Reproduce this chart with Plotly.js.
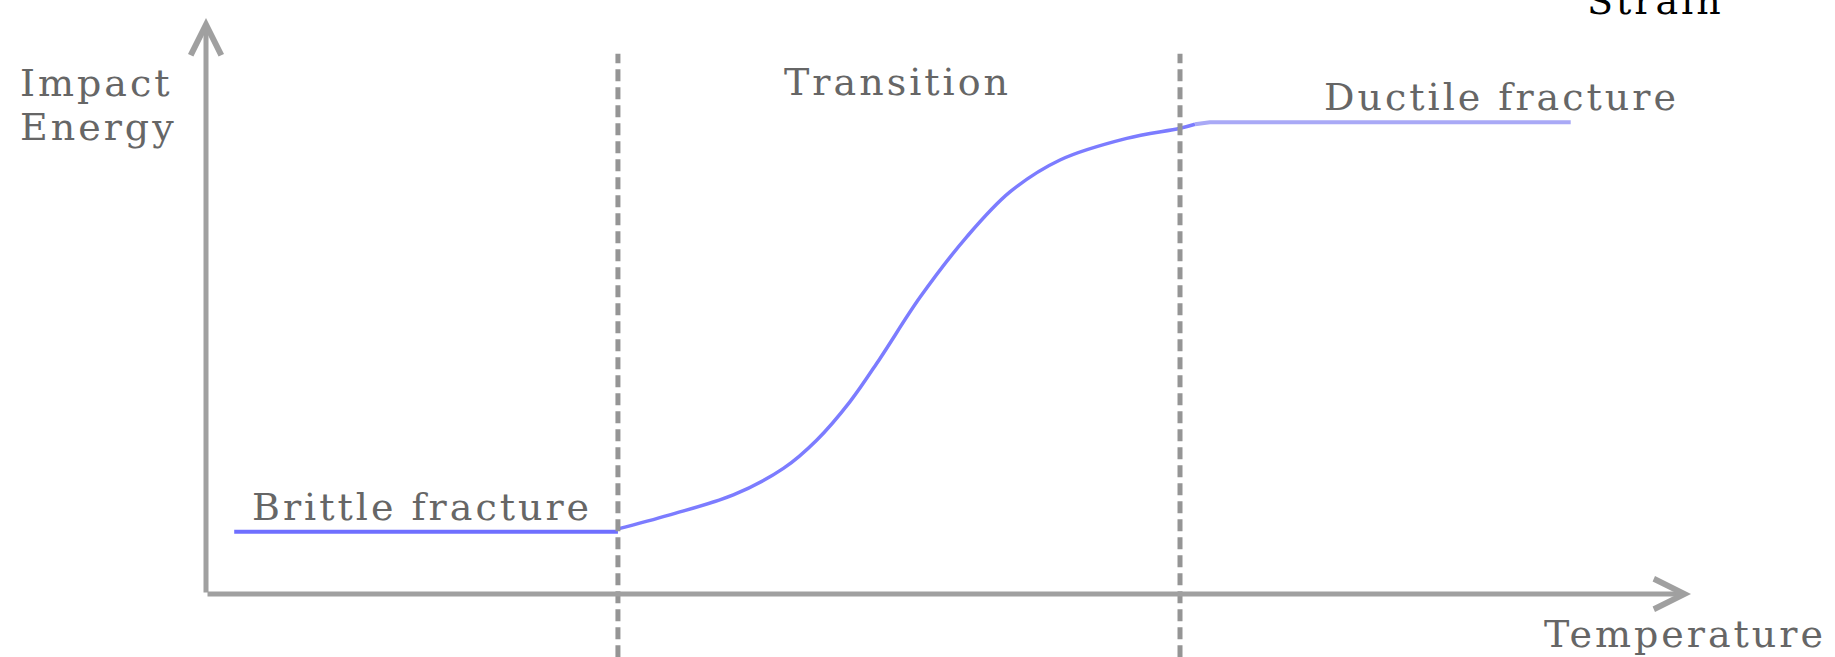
<!DOCTYPE html>
<html>
<head>
<meta charset="utf-8">
<script src="https://cdn.plot.ly/plotly-3.0.1.min.js"></script>
<style>
  html, body { margin: 0; padding: 0; background: #ffffff; }
  #chart { width: 1835px; height: 657px; }
  .annotation-text { letter-spacing: 3px; }
</style>
</head>
<body>
<div id="chart"></div>
<script>
// ---- Data (arbitrary units) ----
// Brittle region (lower shelf)
const brittleTemp   = [1.9, 27.74];
const brittleEnergy = [10.8, 10.8];

// Transition region (S-curve)
const transitionTemp   = [27.74, 31.17, 35.51, 38.88, 41.12, 43.37, 45.39, 48.08, 51.23, 54.14, 57.51, 62.0, 65.59, 66.6];
const transitionEnergy = [11.3, 13.7, 17.2, 21.8, 26.7, 33.4, 40.9, 51.5, 62.0, 69.8, 75.35, 79.1, 80.85, 81.55];

// Ductile region (upper shelf)
const ductileTemp   = [66.6, 67.6, 91.9];
const ductileEnergy = [81.55, 81.9, 81.9];

// Region boundaries (dashed lines)
const boundaryTemp = [27.74, 65.59];
const boundaryEnergyRange = [-11, 93.8];

// Axis extents
const axisMax = [100, 100];

// Labels
const labels = {
  yTitle: ["Impact", "Energy"],
  xTitle: "Temperature",
  regions: ["Brittle fracture", "Transition", "Ductile fracture"],
  corner: "Strain"
};

// ---- Figure ----
const xRange = [-13.872, 109.697];
const yRange = [-10.94, 103.125];

const traces = [
  { x: brittleTemp, y: brittleEnergy, mode: 'lines', line: { color: '#6f6fff', width: 4 }, hoverinfo: 'skip' },
  { x: transitionTemp, y: transitionEnergy, mode: 'lines', line: { color: '#7c7cff', width: 3.5, shape: 'spline', smoothing: 1 }, hoverinfo: 'skip' },
  { x: ductileTemp, y: ductileEnergy, mode: 'lines', line: { color: '#a9a9f6', width: 4 }, hoverinfo: 'skip' }
];

const shapes = boundaryTemp.map(t => ({
  type: 'line', xref: 'x', yref: 'y',
  x0: t, x1: t, y0: boundaryEnergyRange[0], y1: boundaryEnergyRange[1],
  line: { color: '#959595', width: 5, dash: '12px,6px' }
}));

const textFont = { family: 'DejaVu Serif', size: 38, color: '#666666' };

const annotations = [
  // axis arrows
  { x: axisMax[0], y: 0, ax: 0, ay: 0, axref: 'x', ayref: 'y', xref: 'x', yref: 'y',
    text: '', showarrow: true, arrowhead: 5, arrowsize: 1.2, arrowwidth: 5, arrowcolor: '#a0a0a0', standoff: 0, startstandoff: 0 },
  { x: 0, y: axisMax[1], ax: 0, ay: 0, axref: 'x', ayref: 'y', xref: 'x', yref: 'y',
    text: '', showarrow: true, arrowhead: 5, arrowsize: 1.2, arrowwidth: 5, arrowcolor: '#a0a0a0', standoff: 0, startstandoff: 0 },
  // texts
  { x: -12.66, y: 88.7, text: labels.yTitle[0], xanchor: 'left', yanchor: 'middle', showarrow: false, font: textFont },
  { x: -12.66, y: 81.1, text: labels.yTitle[1], xanchor: 'left', yanchor: 'middle', showarrow: false, font: textFont },
  { x: 38.79, y: 88.9, text: labels.regions[1], xanchor: 'left', yanchor: 'middle', showarrow: false, font: textFont },
  { x: 75.15, y: 86.3, text: labels.regions[2], xanchor: 'left', yanchor: 'middle', showarrow: false, font: textFont },
  { x: 2.96, y: 15.1, text: labels.regions[0], xanchor: 'left', yanchor: 'middle', showarrow: false, font: textFont },
  { x: 89.97, y: -6.94, text: labels.xTitle, xanchor: 'left', yanchor: 'middle', showarrow: false, font: textFont },
  { x: 92.86, y: 102.95, text: labels.corner, xanchor: 'left', yanchor: 'middle', showarrow: false,
    font: { family: 'DejaVu Serif', size: 38, color: '#000000' } }
];

const hiddenAxis = { showgrid: false, zeroline: false, showline: false, showticklabels: false, ticks: '', fixedrange: true };

const layout = {
  width: 1835, height: 657,
  margin: { l: 0, r: 0, t: 0, b: 0, pad: 0 },
  paper_bgcolor: '#ffffff', plot_bgcolor: '#ffffff',
  showlegend: false,
  xaxis: Object.assign({ range: xRange }, hiddenAxis),
  yaxis: Object.assign({ range: yRange }, hiddenAxis),
  shapes: shapes,
  annotations: annotations
};

Plotly.newPlot('chart', traces, layout, { displayModeBar: false, staticPlot: true });
</script>
</body>
</html>
